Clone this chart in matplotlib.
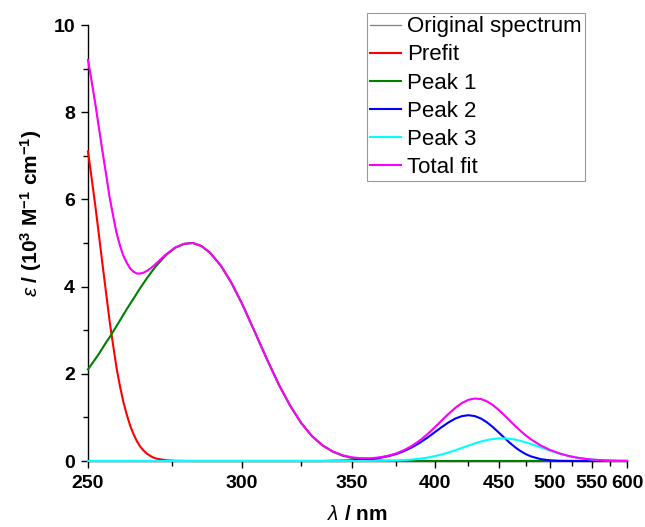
import numpy as np
import matplotlib
matplotlib.use("Agg")
import matplotlib.pyplot as plt
from matplotlib.ticker import FixedLocator, NullFormatter

plt.rcParams['font.family'] = ['Liberation Sans', 'DejaVu Sans']
plt.rcParams['mathtext.fontset'] = 'custom'
plt.rcParams['mathtext.rm'] = 'Liberation Sans:bold'
plt.rcParams['mathtext.bf'] = 'Liberation Sans:bold'
plt.rcParams['mathtext.it'] = 'Liberation Sans:italic'

# ---- data ----
wavelength = [250, 251, 252, 253, 254, 255, 256, 257, 258, 259, 260, 261, 262, 263, 264, 265,
              266, 267, 268, 269, 270, 273, 276, 279,
              282, 285, 288, 292, 296, 300, 305, 310, 315, 320, 325, 330, 335, 340,
              345, 350, 355, 360, 365, 370, 375, 380, 385, 390, 395, 400, 405, 410,
              415, 420, 425, 430, 435, 440, 445, 450, 455, 460, 465, 470, 475, 480,
              490, 500, 510, 520, 530, 540, 550, 560, 575, 590, 600]

prefit = [7.10, 6.48, 5.85, 5.18, 4.50, 3.85, 3.20, 2.65, 2.12, 1.70, 1.34, 1.05, 0.80, 0.61, 0.45, 0.33,
          0.24, 0.17, 0.12, 0.08, 0.055, 0.016, 0.004, 0.001,
          0, 0, 0, 0, 0, 0, 0, 0, 0, 0, 0, 0, 0, 0,
          0, 0, 0, 0, 0, 0, 0, 0, 0, 0, 0, 0, 0, 0,
          0, 0, 0, 0, 0, 0, 0, 0, 0, 0, 0, 0, 0, 0,
          0, 0, 0, 0, 0, 0, 0, 0, 0, 0, 0]

peak1 = [2.10, 2.22, 2.34, 2.46, 2.59, 2.72, 2.84, 2.97, 3.10, 3.23, 3.36, 3.49, 3.61, 3.73, 3.85, 3.97,
         4.08, 4.19, 4.29, 4.39, 4.48, 4.72, 4.89, 4.98,
         5.00, 4.93, 4.78, 4.48, 4.08, 3.61, 2.97, 2.34, 1.76, 1.27, 0.87, 0.57, 0.36, 0.216,
         0.124, 0.068, 0.036, 0.018, 0.009, 0.004, 0.002, 0.001, 0, 0, 0, 0, 0, 0,
         0, 0, 0, 0, 0, 0, 0, 0, 0, 0, 0, 0, 0, 0,
         0, 0, 0, 0, 0, 0, 0, 0, 0, 0, 0]

peak2 = [0, 0, 0, 0, 0, 0, 0, 0, 0, 0, 0, 0, 0, 0, 0, 0,
         0, 0, 0, 0, 0, 0, 0, 0,
         0, 0, 0, 0, 0, 0, 0, 0, 0, 0, 0, 0, 0, 0.005,
         0.008, 0.015, 0.026, 0.043, 0.070, 0.107, 0.159, 0.228, 0.314, 0.417, 0.533, 0.655, 0.777, 0.886,
         0.974, 1.030, 1.050, 1.030, 0.974, 0.886, 0.777, 0.655, 0.533, 0.417, 0.314, 0.228, 0.159, 0.107,
         0.043, 0.015, 0.005, 0.001, 0, 0, 0, 0, 0, 0, 0]

peak3 = [0, 0, 0, 0, 0, 0, 0, 0, 0, 0, 0, 0, 0, 0, 0, 0,
         0, 0, 0, 0, 0, 0, 0, 0,
         0, 0, 0, 0, 0, 0, 0, 0, 0, 0, 0, 0, 0, 0,
         0.0001, 0.0002, 0.0006, 0.0014, 0.003, 0.006, 0.011, 0.020, 0.033, 0.051, 0.077, 0.110, 0.150, 0.196,
         0.247, 0.301, 0.354, 0.403, 0.447, 0.481, 0.505, 0.518, 0.519, 0.509, 0.490, 0.463, 0.430, 0.393,
         0.314, 0.238, 0.172, 0.119, 0.080, 0.052, 0.033, 0.020, 0.010, 0.004, 0.0025]

total_fit = [9.20, 8.70, 8.19, 7.64, 7.09, 6.57, 6.04, 5.62, 5.22, 4.93, 4.70, 4.54, 4.41, 4.34, 4.30, 4.30,
             4.32, 4.36, 4.41, 4.47, 4.535, 4.736, 4.894, 4.981,
             5.00, 4.93, 4.78, 4.48, 4.08, 3.61, 2.97, 2.34, 1.76, 1.27, 0.87, 0.57, 0.36, 0.221,
             0.132, 0.083, 0.063, 0.062, 0.082, 0.117, 0.172, 0.249, 0.347, 0.468, 0.610, 0.765, 0.927, 1.082,
             1.221, 1.331, 1.404, 1.433, 1.421, 1.367, 1.282, 1.173, 1.052, 0.926, 0.804, 0.691, 0.589, 0.500,
             0.357, 0.253, 0.177, 0.120, 0.080, 0.052, 0.033, 0.020, 0.010, 0.004, 0.0025]

original_spectrum = list(total_fit)

series_labels = ["Original spectrum", "Prefit", "Peak 1", "Peak 2", "Peak 3", "Total fit"]
x_major_ticks = [250, 300, 350, 400, 450, 500, 550, 600]
x_minor_ticks = [275, 325, 375, 425, 475, 525, 575]
y_major_ticks = [0, 2, 4, 6, 8, 10]
y_minor_ticks = [1, 3, 5, 7, 9]

# ---- figure ----
fig = plt.figure(figsize=(6.45, 5.27), dpi=100)
ax = fig.add_axes([88 / 645, 1 - 461 / 527, (627 - 88) / 645, (461 - 25) / 527])


def fwd(x):
    x = np.asarray(x, dtype=float)
    with np.errstate(divide='ignore', invalid='ignore'):
        return -1000.0 / x


def inv(y):
    y = np.asarray(y, dtype=float)
    with np.errstate(divide='ignore', invalid='ignore'):
        return -1000.0 / y


ax.set_xscale('function', functions=(fwd, inv))

styles = [
    (original_spectrum, '#808080', 0.9),
    (prefit, '#ff0000', 1.5),
    (peak1, '#008000', 1.5),
    (peak2, '#0000ff', 1.5),
    (peak3, '#00ffff', 1.5),
    (total_fit, '#ff00ff', 1.5),
]
for (vals, col, lw), lab in zip(styles, series_labels):
    ax.plot(wavelength, vals, color=col, lw=lw, label=lab, clip_on=False, zorder=3,
            solid_joinstyle='round')

ax.set_xlim(250, 600)
ax.set_ylim(0, 10)

ax.xaxis.set_major_locator(FixedLocator(x_major_ticks))
ax.xaxis.set_minor_locator(FixedLocator(x_minor_ticks))
ax.xaxis.set_minor_formatter(NullFormatter())
ax.set_xticklabels([str(t) for t in x_major_ticks])
ax.yaxis.set_major_locator(FixedLocator(y_major_ticks))
ax.yaxis.set_minor_locator(FixedLocator(y_minor_ticks))
ax.set_yticklabels([str(t) for t in y_major_ticks])

for s in ['top', 'right']:
    ax.spines[s].set_visible(False)
for s in ['left', 'bottom']:
    ax.spines[s].set_linewidth(1.0)
    ax.spines[s].set_color('black')

ax.tick_params(which='major', direction='out', length=5.3, width=1.0, labelsize=14)
ax.tick_params(axis='x', which='major', pad=5)
ax.tick_params(axis='y', which='major', pad=4)
ax.tick_params(which='minor', direction='out', length=3.4, width=1.0)
for lbl in ax.get_xticklabels() + ax.get_yticklabels():
    lbl.set_fontweight('bold')

ax.set_xlabel(r'$\lambda$ / nm', fontsize=15, fontweight='bold')
ax.set_ylabel(r'$\varepsilon$ / (10$^{3}$ M$^{-1}$ cm$^{-1}$)', fontsize=15, fontweight='bold')
ax.xaxis.set_label_coords(0.5, (461 - 505) / 436)
ax.yaxis.set_label_coords((44 - 88) / 539, (461 - 213) / 436)

leg = fig.legend(loc='upper right', bbox_to_anchor=(585 / 645, 1 - 13 / 527),
                 fontsize=16, frameon=True, fancybox=False, borderpad=0.15,
                 labelspacing=0.32, handlelength=1.4, handletextpad=0.25,
                 borderaxespad=0)
leg.get_frame().set_edgecolor('#808080')
leg.get_frame().set_linewidth(0.8)
for line in leg.get_lines():
    line.set_linewidth(1.5)
leg.get_lines()[0].set_linewidth(0.9)

fig.savefig('out.png', dpi=100)
